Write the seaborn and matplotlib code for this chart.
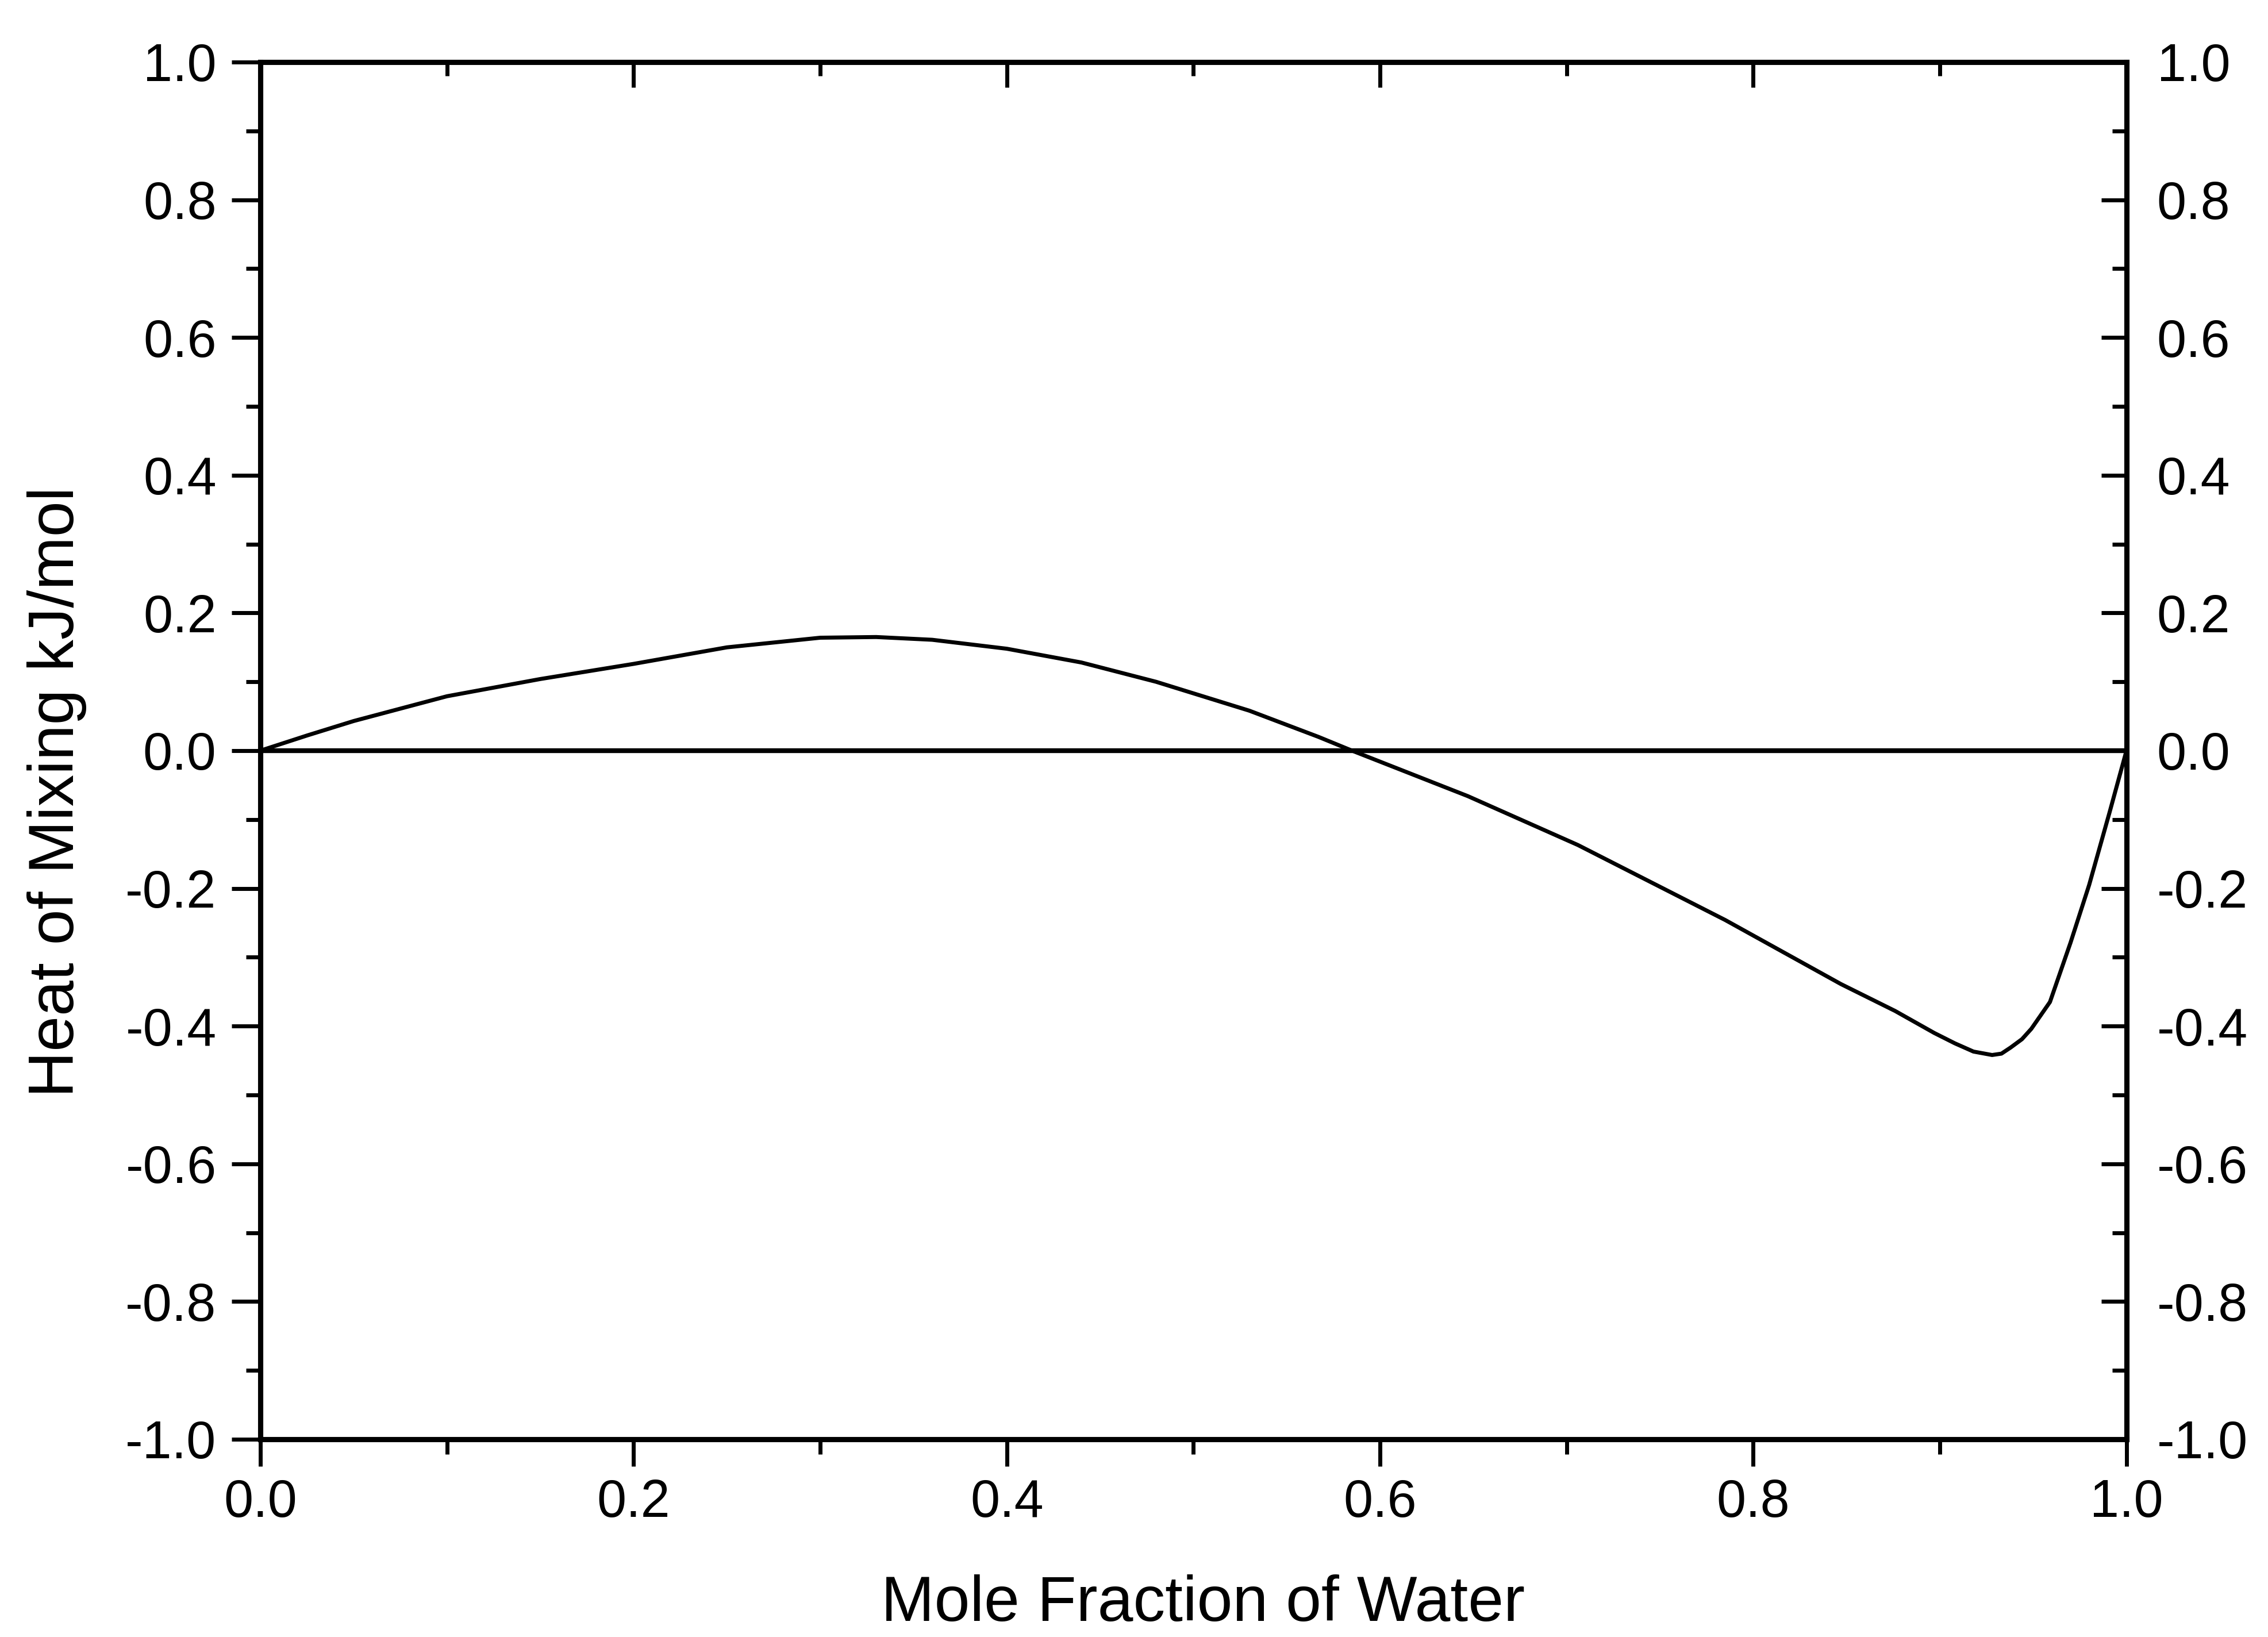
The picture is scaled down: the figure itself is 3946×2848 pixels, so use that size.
import matplotlib
matplotlib.use("Agg")
import matplotlib.pyplot as plt
import seaborn as sns
import pandas as pd
from matplotlib.ticker import MultipleLocator, FormatStrFormatter, FixedLocator

# ---- data ----
mole_fraction = [0.0, 0.025, 0.05, 0.1, 0.15, 0.2, 0.25, 0.3, 0.33, 0.36, 0.4,
                 0.44, 0.48, 0.53, 0.567, 0.585, 0.647, 0.706, 0.785, 0.847,
                 0.876, 0.897, 0.908, 0.918, 0.928, 0.933, 0.938, 0.944, 0.949,
                 0.959, 0.970, 0.980, 0.991, 1.0]
heat_of_mixing = [0.0, 0.022, 0.043, 0.079, 0.104, 0.126, 0.150, 0.164, 0.165,
                  0.161, 0.148, 0.128, 0.100, 0.058, 0.020, 0.0, -0.066, -0.137,
                  -0.246, -0.339, -0.378, -0.410, -0.425, -0.437, -0.442, -0.440,
                  -0.431, -0.419, -0.404, -0.365, -0.279, -0.195, -0.089, 0.0]
zero_x = [0.0, 1.0]
zero_y = [0.0, 0.0]
x_ticks = [0.0, 0.2, 0.4, 0.6, 0.8, 1.0]
y_ticks = [-1.0, -0.8, -0.6, -0.4, -0.2, 0.0, 0.2, 0.4, 0.6, 0.8, 1.0]
x_label = "Mole Fraction of Water"
y_label = "Heat of Mixing kJ/mol"

df = pd.DataFrame({"x": mole_fraction, "y": heat_of_mixing})
df0 = pd.DataFrame({"x": zero_x, "y": zero_y})

sns.set_style("ticks")
plt.rcParams["font.family"] = ["Liberation Sans", "DejaVu Sans"]
plt.rcParams["axes.unicode_minus"] = False
plt.rcParams["text.color"] = "black"
plt.rcParams["axes.labelcolor"] = "black"
plt.rcParams["xtick.color"] = "black"
plt.rcParams["ytick.color"] = "black"
plt.rcParams["axes.edgecolor"] = "black"

fig = plt.figure(figsize=(39.46, 28.48), dpi=100)
ax = fig.add_axes([0.1148, 0.1208, 0.8228, 0.8413])

sns.lineplot(data=df0, x="x", y="y", ax=ax, color="black", linewidth=6)
sns.lineplot(data=df, x="x", y="y", ax=ax, color="black", linewidth=5)

ax.set_xlim(0, 1)
ax.set_ylim(-1, 1)
ax.xaxis.set_major_locator(FixedLocator(x_ticks))
ax.xaxis.set_minor_locator(MultipleLocator(0.1))
ax.yaxis.set_major_locator(FixedLocator(y_ticks))
ax.yaxis.set_minor_locator(MultipleLocator(0.1))
ax.xaxis.set_major_formatter(FormatStrFormatter("%.1f"))
ax.yaxis.set_major_formatter(FormatStrFormatter("%.1f"))

for s in ax.spines.values():
    s.set_linewidth(6.5)
    s.set_color("black")

ax.tick_params(axis="x", which="major", direction="out", length=34, width=5,
               labelsize=66, pad=15, top=False, color="black", labelcolor="black")
ax.tick_params(axis="x", which="minor", direction="out", length=19, width=5,
               top=False, color="black")
ax.tick_params(axis="y", which="major", direction="out", length=36, width=5,
               labelsize=66, pad=19, right=False, color="black", labelcolor="black")
ax.tick_params(axis="y", which="minor", direction="out", length=18, width=5,
               right=False, color="black")

ax.set_xlabel(x_label, fontsize=80, color="black")
ax.set_ylabel(y_label, fontsize=80, color="black")
ax.xaxis.set_label_coords(0.505, -0.098)
ax.yaxis.set_label_coords(-0.093, 0.47)

# right axis: inward ticks with labels
ax2 = ax.twinx()
ax2.set_ylim(-1, 1)
ax2.yaxis.set_major_locator(FixedLocator(y_ticks))
ax2.yaxis.set_minor_locator(MultipleLocator(0.1))
ax2.yaxis.set_major_formatter(FormatStrFormatter("%.1f"))
ax2.tick_params(axis="y", which="major", direction="in", length=32, width=5,
                labelsize=66, pad=38, color="black", labelcolor="black")
ax2.tick_params(axis="y", which="minor", direction="in", length=18, width=5,
                color="black")
for s in ax2.spines.values():
    s.set_linewidth(6.5)
    s.set_color("black")

# top axis: inward ticks without labels
ax3 = ax.twiny()
ax3.set_xlim(0, 1)
ax3.xaxis.set_major_locator(FixedLocator(x_ticks))
ax3.xaxis.set_minor_locator(MultipleLocator(0.1))
ax3.tick_params(axis="x", which="major", direction="in", length=32, width=5,
                labeltop=False, color="black")
ax3.tick_params(axis="x", which="minor", direction="in", length=17, width=5,
                color="black")
for s in ax3.spines.values():
    s.set_linewidth(6.5)
    s.set_color("black")

fig.savefig("out.png", dpi=100, facecolor="white")
